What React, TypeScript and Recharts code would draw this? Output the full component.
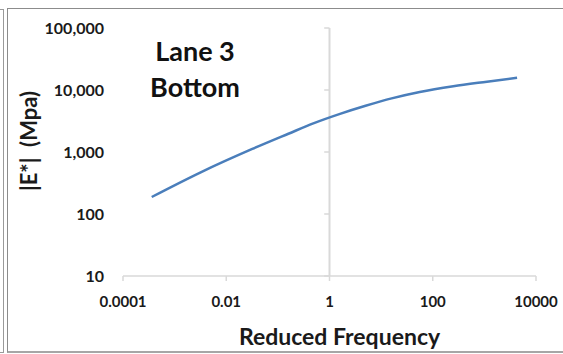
import { LineChart, Line, XAxis, YAxis, ReferenceLine } from "recharts";

// master curve: reduced frequency vs dynamic modulus
const frequency = [0.00036, 0.0032, 0.032, 0.16, 0.5, 1.6, 5, 16, 56, 250, 1120, 4300];
const modulus = [188, 470, 1120, 1970, 2920, 4120, 5560, 7330, 9290, 11500, 13600, 15700];

const xTicks = [0.0001, 0.01, 1, 100, 10000];
const yTicks = [10, 100, 1000, 10000, 100000];

const chartData = frequency.map((f, i) => ({ freq: f, e: modulus[i] }));

const FONT = "Lato, 'Open Sans', sans-serif";
const AXIS_GRAY = "#d9d9d9";
const TEXT = "#1a1a1a";

const formatX = (v: number) => (v < 1 ? v.toFixed(Math.round(-Math.log10(v))) : String(v));
const formatY = (v: number) => v.toLocaleString("en-US");

export default function App() {
  return (
    <div
      style={{
        position: "fixed",
        left: 0,
        top: 0,
        width: 563,
        height: 354,
        background: "#fff",
        fontFamily: FONT,
        overflow: "hidden",
      }}
    >
      {/* frame lines */}
      <div
        style={{
          position: "absolute",
          left: -10,
          top: 9,
          width: 12,
          height: 342,
          border: "1px solid #9a9a9a",
        }}
      />
      <div
        style={{
          position: "absolute",
          left: 7,
          top: 8,
          width: 600,
          height: 342,
          border: "1px solid #8c8c8c",
          borderBottom: "2px solid #a6a6a6",
        }}
      />

      <LineChart
        width={563}
        height={354}
        data={chartData}
        margin={{ top: 28, right: 27, left: 0, bottom: 0 }}
        style={{ position: "absolute", left: 0, top: 0 }}
      >
        <XAxis
          dataKey="freq"
          type="number"
          scale="log"
          domain={[0.0001, 10000]}
          ticks={xTicks}
          tickFormatter={formatX}
          height={78}
          axisLine={{ stroke: AXIS_GRAY, strokeWidth: 1.5 }}
          tickLine={{ stroke: AXIS_GRAY, strokeWidth: 1.5 }}
          tickSize={5}
          tickMargin={15}
          tick={{ fill: TEXT, fontSize: 15, fontWeight: 700, fontFamily: FONT }}
          label={({ viewBox }: any) => (
            <text
              x={viewBox.x + viewBox.width / 2 + 10}
              y={viewBox.y + 69}
              textAnchor="middle"
              fill={TEXT}
              fontSize={23}
              fontWeight={700}
              fontFamily={FONT}
            >
              Reduced Frequency
            </text>
          )}
        />
        <YAxis
          dataKey="e"
          type="number"
          scale="log"
          domain={[10, 100000]}
          ticks={yTicks}
          tickFormatter={formatY}
          width={123}
          axisLine={false}
          tickLine={false}
          tickSize={6}
          tickMargin={13}
          tick={{ fill: TEXT, fontSize: 16, fontWeight: 700, fontFamily: FONT }}
          label={({ viewBox }: any) => {
            const cx = viewBox.x + 28;
            const cy = viewBox.y + viewBox.height / 2 - 11;
            return (
              <text
                x={cx}
                y={cy}
                transform={`rotate(-90, ${cx}, ${cy})`}
                textAnchor="middle"
                dominantBaseline="central"
                fill={TEXT}
                fontSize={22}
                fontWeight={700}
                fontFamily={FONT}
                style={{ whiteSpace: "pre" }}
              >
                {"|E*|  (Mpa)"}
              </text>
            );
          }}
        />
        {/* vertical axis crossing at frequency 1 */}
        <ReferenceLine x={1} stroke={AXIS_GRAY} strokeWidth={2} />
        {yTicks.map((t) => (
          <ReferenceLine
            key={t}
            segment={[
              { x: 0.79, y: t },
              { x: 1, y: t },
            ]}
            stroke={AXIS_GRAY}
            strokeWidth={1.5}
          />
        ))}
        <Line
          type="monotone"
          dataKey="e"
          stroke="#4a7ebb"
          strokeWidth={2.5}
          dot={false}
          isAnimationActive={false}
        />
      </LineChart>

      <div
        style={{
          position: "absolute",
          left: 135,
          top: 33,
          width: 120,
          textAlign: "center",
          fontSize: 27,
          fontWeight: 700,
          lineHeight: "36px",
          color: "#111",
        }}
      >
        Lane 3
        <br />
        Bottom
      </div>
    </div>
  );
}
